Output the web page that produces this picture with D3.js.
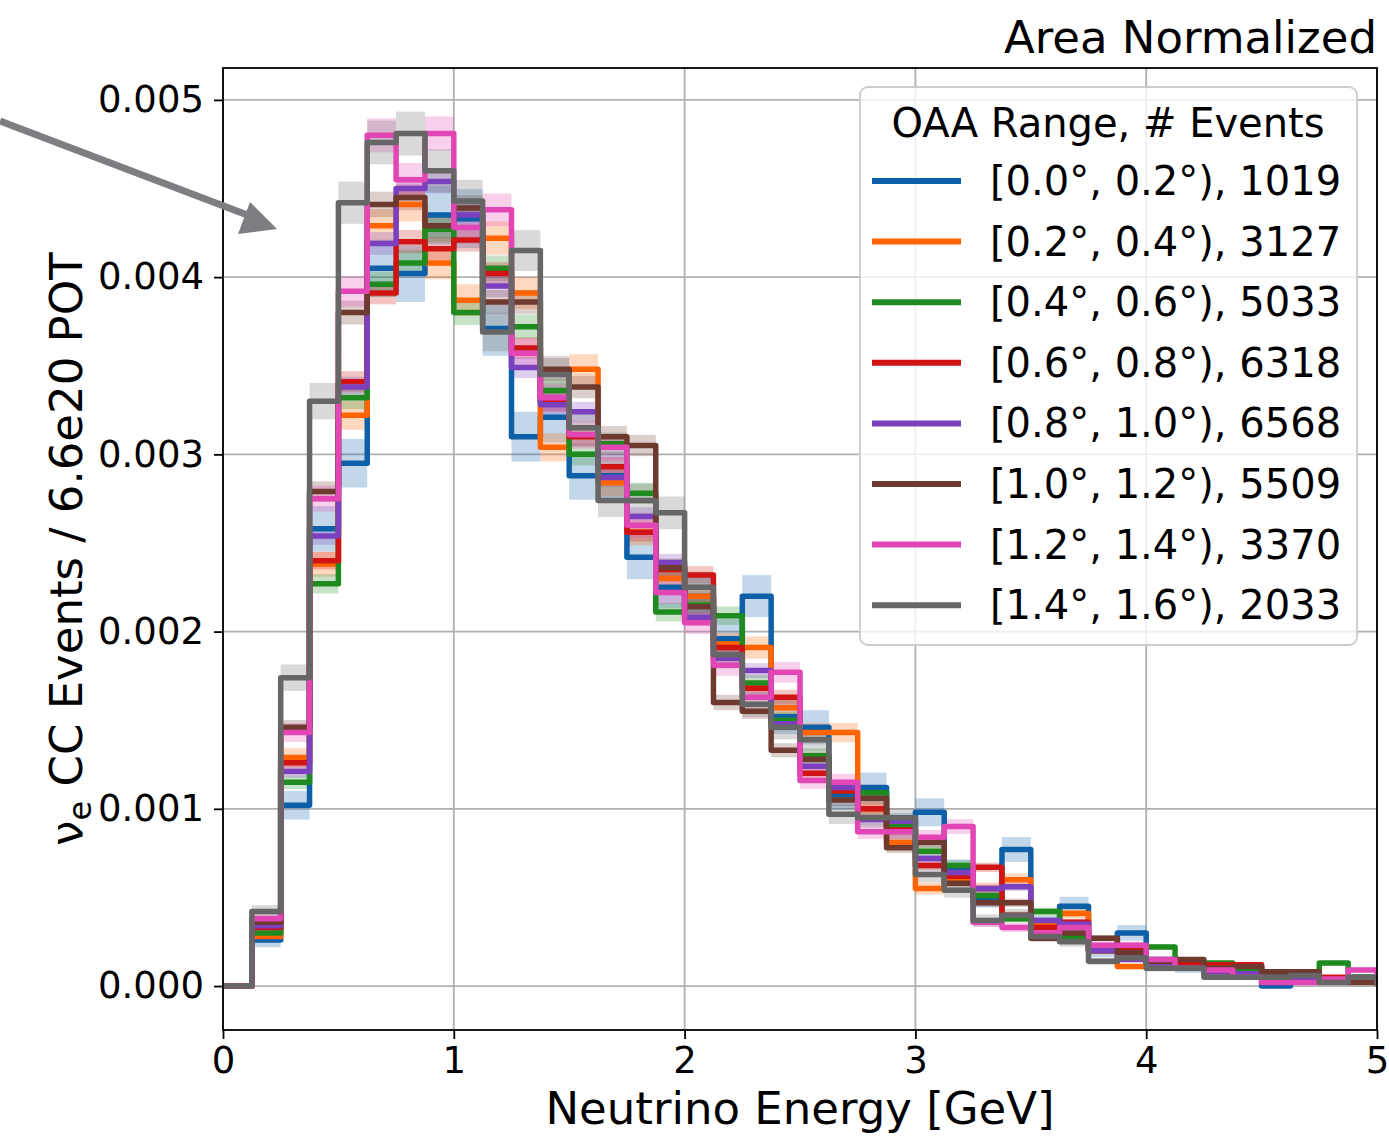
<!DOCTYPE html>
<html>
<head>
<meta charset="utf-8">
<script src="https://cdnjs.cloudflare.com/ajax/libs/d3/7.8.5/d3.min.js"></script>
<style>
    body { margin: 0; background: #fff; }
    text { font-family: "DejaVu Sans", sans-serif; fill: #000; }
</style>
</head>
<body>
<div id="chart"></div>
<script>

// OAA slices and how many nu_e CC events are in each
var oaaRanges = ["[0.0°, 0.2°)", "[0.2°, 0.4°)", "[0.4°, 0.6°)", "[0.6°, 0.8°)",
                 "[0.8°, 1.0°)", "[1.0°, 1.2°)", "[1.2°, 1.4°)", "[1.4°, 1.6°)"];
var nEvents = [1019, 3127, 5033, 6318, 6568, 5509, 3370, 2033];
var lineColors = ["#0d5fa7", "#ff6400", "#1f8a1f", "#d01414", "#7b40bd", "#6e3a2f", "#e245b4", "#666666"];

// energy bins (GeV)
var binWidth = 0.125;
var eMax = 5;

// area normalized bin contents (40 bins each)
var oaa_00_02 = [0, 0.00026, 0.00102, 0.00258, 0.00295, 0.00405, 0.00402, 0.00435, 0.00433, 0.00371,
                 0.00310, 0.00321, 0.00288, 0.00288, 0.00242, 0.00225, 0.00220, 0.00196, 0.00220, 0.00152,
                 0.00146, 0.00108, 0.00112, 0.00090, 0.00098, 0.00065, 0.00050, 0.00077, 0.00035, 0.00045,
                 0.00020, 0.00030, 0.00014, 0.00010, 0.00008, 0.00006, 0.00000, 0.00003, 0.00004, 0.00005];
var oaa_02_04 = [0, 0.00028, 0.00129, 0.00238, 0.00322, 0.00429, 0.00441, 0.00408, 0.00387, 0.00422,
                 0.00391, 0.00304, 0.00348, 0.00284, 0.00256, 0.00230, 0.00220, 0.00193, 0.00191, 0.00157,
                 0.00143, 0.00143, 0.00100, 0.00081, 0.00055, 0.00060, 0.00055, 0.00060, 0.00035, 0.00041,
                 0.00020, 0.00011, 0.00013, 0.00010, 0.00008, 0.00007, 0.00005, 0.00004, 0.00004, 0.00003];
var oaa_04_06 = [0, 0.00030, 0.00115, 0.00227, 0.00332, 0.00396, 0.00408, 0.00427, 0.00380, 0.00405,
                 0.00372, 0.00336, 0.00300, 0.00306, 0.00278, 0.00211, 0.00215, 0.00209, 0.00171, 0.00150,
                 0.00130, 0.00110, 0.00109, 0.00090, 0.00076, 0.00068, 0.00051, 0.00038, 0.00042, 0.00028,
                 0.00020, 0.00020, 0.00022, 0.00013, 0.00013, 0.00010, 0.00006, 0.00006, 0.00013, 0.00005];
var oaa_06_08 = [0, 0.00033, 0.00126, 0.00240, 0.00341, 0.00391, 0.00420, 0.00416, 0.00421, 0.00402,
                 0.00360, 0.00330, 0.00310, 0.00293, 0.00256, 0.00235, 0.00232, 0.00191, 0.00168, 0.00163,
                 0.00120, 0.00110, 0.00100, 0.00088, 0.00068, 0.00062, 0.00067, 0.00040, 0.00033, 0.00036,
                 0.00020, 0.00020, 0.00014, 0.00012, 0.00012, 0.00012, 0.00008, 0.00006, 0.00005, 0.00004];
var oaa_08_10 = [0, 0.00034, 0.00121, 0.00254, 0.00338, 0.00419, 0.00450, 0.00454, 0.00435, 0.00395,
                 0.00349, 0.00328, 0.00324, 0.00287, 0.00265, 0.00239, 0.00208, 0.00185, 0.00178, 0.00148,
                 0.00124, 0.00112, 0.00094, 0.00093, 0.00072, 0.00064, 0.00055, 0.00056, 0.00037, 0.00035,
                 0.00020, 0.00015, 0.00013, 0.00010, 0.00008, 0.00007, 0.00005, 0.00004, 0.00003, 0.00003];
var oaa_10_12 = [0, 0.00036, 0.00146, 0.00279, 0.00380, 0.00441, 0.00445, 0.00429, 0.00439, 0.00386,
                 0.00386, 0.00348, 0.00338, 0.00310, 0.00305, 0.00236, 0.00214, 0.00160, 0.00155, 0.00133,
                 0.00128, 0.00105, 0.00106, 0.00078, 0.00081, 0.00058, 0.00047, 0.00047, 0.00027, 0.00030,
                 0.00027, 0.00019, 0.00014, 0.00015, 0.00010, 0.00011, 0.00008, 0.00008, 0.00003, 0.00002];
var oaa_12_14 = [0, 0.00038, 0.00143, 0.00275, 0.00392, 0.00480, 0.00455, 0.00481, 0.00428, 0.00438,
                 0.00357, 0.00332, 0.00311, 0.00304, 0.00260, 0.00222, 0.00205, 0.00181, 0.00163, 0.00177,
                 0.00116, 0.00115, 0.00087, 0.00087, 0.00084, 0.00090, 0.00036, 0.00033, 0.00030, 0.00033,
                 0.00023, 0.00023, 0.00015, 0.00010, 0.00009, 0.00005, 0.00002, 0.00002, 0.00004, 0.00009];
var oaa_14_16 = [0, 0.00042, 0.00174, 0.00330, 0.00442, 0.00476, 0.00481, 0.00460, 0.00443, 0.00369,
                 0.00415, 0.00345, 0.00315, 0.00274, 0.00274, 0.00267, 0.00225, 0.00187, 0.00159, 0.00146,
                 0.00139, 0.00097, 0.00095, 0.00095, 0.00063, 0.00054, 0.00037, 0.00040, 0.00028, 0.00025,
                 0.00014, 0.00016, 0.00010, 0.00010, 0.00005, 0.00005, 0.00005, 0.00006, 0.00002, 0.00005];

var allSeries = [oaa_00_02, oaa_02_04, oaa_04_06, oaa_06_08, oaa_08_10, oaa_10_12, oaa_12_14, oaa_14_16];

// stat error: sigma = sqrt(value * errScale / N)
var errScale = 0.0065;

var xTicks = [0, 1, 2, 3, 4, 5];
var yTicks = [0, 0.001, 0.002, 0.003, 0.004, 0.005];
var yDomain = [-0.000248, 0.00518];


/*
 * FluxPlot - draws the step histograms
 */
FluxPlot = function(_parentElement){
    this.parentElement = _parentElement;
    this.initVis();
}

FluxPlot.prototype.initVis = function(){
    var vis = this;

    vis.margin = {top: 68, right: 12, bottom: 106, left: 223};
    vis.width = 1389 - vis.margin.left - vis.margin.right;
    vis.height = 1136 - vis.margin.top - vis.margin.bottom;

    vis.svg = d3.select("#" + vis.parentElement).append("svg")
        .attr("width", 1389)
        .attr("height", 1136);

    vis.svg.append("defs").append("clipPath")
        .attr("id", "clip")
        .append("rect")
        .attr("width", vis.width)
        .attr("height", vis.height);

    vis.focus = vis.svg.append("g")
        .attr("transform", "translate(" + vis.margin.left + "," + vis.margin.top + ")");

    vis.x = d3.scaleLinear().domain([0, eMax]).range([0, vis.width]);
    vis.y = d3.scaleLinear().domain(yDomain).range([vis.height, 0]);

    // grid
    vis.focus.append("g").attr("class", "grid")
        .selectAll("line.gx").data(xTicks).enter().append("line")
        .attr("x1", function(d){ return vis.x(d); })
        .attr("x2", function(d){ return vis.x(d); })
        .attr("y1", 0).attr("y2", vis.height)
        .attr("stroke", "#b0b0b0").attr("stroke-width", 1.8);
    vis.focus.select(".grid")
        .selectAll("line.gy").data(yTicks).enter().append("line")
        .attr("x1", 0).attr("x2", vis.width)
        .attr("y1", function(d){ return vis.y(d); })
        .attr("y2", function(d){ return vis.y(d); })
        .attr("stroke", "#b0b0b0").attr("stroke-width", 1.8);

    vis.plot = vis.focus.append("g").attr("clip-path", "url(#clip)");

    // error bands first
    allSeries.forEach(function(vals, s){
        var bins = vals.map(function(v, i){
            var err = Math.sqrt(v * errScale / nEvents[s]);
            return {x0: i * binWidth, lo: v - err, hi: v + err};
        });
        vis.plot.append("g")
            .selectAll("rect").data(bins).enter().append("rect")
            .attr("x", function(d){ return vis.x(d.x0); })
            .attr("width", vis.x(binWidth) - vis.x(0))
            .attr("y", function(d){ return vis.y(d.hi); })
            .attr("height", function(d){ return vis.y(d.lo) - vis.y(d.hi); })
            .attr("fill", lineColors[s])
            .attr("fill-opacity", 0.25);
    });

    // step lines
    vis.line = d3.line()
        .x(function(d){ return vis.x(d.x); })
        .y(function(d){ return vis.y(d.y); })
        .curve(d3.curveStepAfter);

    allSeries.forEach(function(vals, s){
        var pts = vals.map(function(v, i){ return {x: i * binWidth, y: v}; });
        pts.push({x: eMax, y: vals[vals.length - 1]});
        pts.push({x: eMax, y: 0});
        vis.plot.append("path")
            .datum(pts)
            .attr("fill", "none")
            .attr("stroke", lineColors[s])
            .attr("stroke-width", 5.5)
            .attr("stroke-linejoin", "round")
            .attr("d", vis.line);
    });

    // axes
    vis.xAxis = d3.axisBottom(vis.x).tickValues(xTicks).tickFormat(d3.format("d"))
        .tickSize(9).tickPadding(8);
    vis.yAxis = d3.axisLeft(vis.y).tickValues(yTicks).tickFormat(d3.format(".3f"))
        .tickSize(9).tickPadding(10);

    vis.focus.append("g")
        .attr("class", "x-axis axis")
        .attr("transform", "translate(0," + vis.height + ")")
        .call(vis.xAxis);
    vis.focus.append("g")
        .attr("class", "y-axis axis")
        .call(vis.yAxis);

    vis.focus.selectAll(".axis path").remove();
    vis.focus.selectAll(".axis line").attr("stroke", "#000").attr("stroke-width", 1.8);
    vis.focus.selectAll(".axis text")
        .attr("font-family", "DejaVu Sans")
        .attr("font-size", 37)
        .attr("fill", "#000");

    // frame
    vis.focus.append("rect")
        .attr("width", vis.width).attr("height", vis.height)
        .attr("fill", "none").attr("stroke", "#000").attr("stroke-width", 1.8);

    // labels
    vis.svg.append("text")
        .attr("x", vis.margin.left + vis.width / 2)
        .attr("y", 1124)
        .attr("text-anchor", "middle")
        .attr("font-size", 45)
        .text("Neutrino Energy [GeV]");

    var yl = vis.svg.append("text")
        .attr("transform", "translate(82," + (vis.margin.top + vis.height / 2) + ") rotate(-90)")
        .attr("text-anchor", "middle")
        .attr("font-size", 45);
    yl.append("tspan").text("ν");
    yl.append("tspan").attr("font-size", 32).attr("dy", 9).text("e");
    yl.append("tspan").attr("dy", -9).text(" CC Events / 6.6e20 POT");

    vis.svg.append("text")
        .attr("x", vis.margin.left + vis.width)
        .attr("y", 53)
        .attr("text-anchor", "end")
        .attr("font-size", 45)
        .text("Area Normalized");

    vis.drawLegend();
    vis.drawArrow();
}

FluxPlot.prototype.drawLegend = function(){
    var vis = this;

    var lg = vis.svg.append("g").attr("class", "legend");
    lg.append("rect")
        .attr("x", 860).attr("y", 87)
        .attr("width", 497).attr("height", 558)
        .attr("rx", 8).attr("ry", 8)
        .attr("fill", "#fff").attr("fill-opacity", 0.8)
        .attr("stroke", "#cccccc").attr("stroke-width", 1.8);

    lg.append("text")
        .attr("x", 1108).attr("y", 137)
        .attr("text-anchor", "middle")
        .attr("font-size", 40)
        .text("OAA Range, # Events");

    var rows = lg.selectAll("g.row").data(oaaRanges).enter().append("g")
        .attr("class", "row")
        .attr("transform", function(d, i){ return "translate(0," + (181 + i * 60.6) + ")"; });

    rows.append("line")
        .attr("x1", 872).attr("x2", 961)
        .attr("stroke", function(d, i){ return lineColors[i]; })
        .attr("stroke-width", 6);

    rows.append("text")
        .attr("x", 990).attr("y", 14)
        .attr("font-size", 40)
        .text(function(d, i){ return d + ", " + nEvents[i]; });
}

FluxPlot.prototype.drawArrow = function(){
    var vis = this;
    // annotation arrow pointing at the low energy peak
    var a = vis.svg.append("g").attr("fill", "#7f7d82").attr("stroke", "#7f7d82");
    a.append("line")
        .attr("x1", 0).attr("y1", 121)
        .attr("x2", 250).attr("y2", 216)
        .attr("stroke-width", 7);
    a.append("path")
        .attr("stroke", "none")
        .attr("d", "M277,229 L238,234 L250,202 Z");
}

new FluxPlot("chart");

</script>
</body>
</html>
